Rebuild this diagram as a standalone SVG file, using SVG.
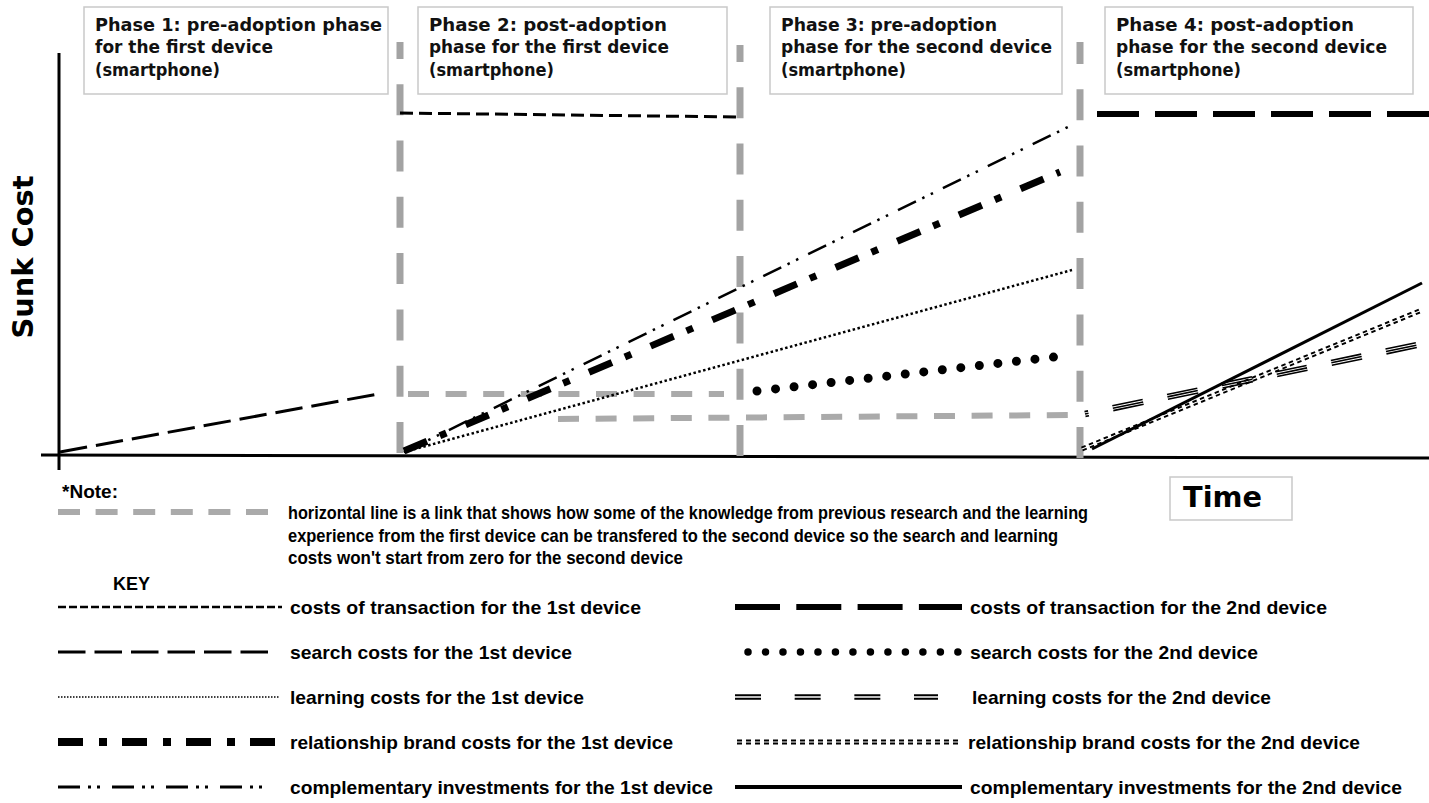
<svg xmlns="http://www.w3.org/2000/svg" width="1429" height="803" viewBox="0 0 1429 803">
<style>
 .box{fill:#fff;stroke:#c9c9c9;stroke-width:1.5}
 .ph{font-family:"DejaVu Sans","Liberation Sans",sans-serif;font-weight:bold;font-size:17px;fill:#111}
 .lbl{font-family:"Liberation Sans",Arial,sans-serif;font-weight:bold;font-size:18.5px;fill:#000}
 .big{font-family:"DejaVu Sans","Liberation Sans",sans-serif;font-weight:bold;fill:#000}
 .ax{stroke:#000;stroke-width:3;fill:none}
 .gv{stroke:#a3a3a3;stroke-width:7;fill:none;stroke-dasharray:31 25.3}
 .gh{stroke:#aaa;stroke-width:6;fill:none;stroke-dasharray:21 16.6}
 .t1{stroke:#000;stroke-width:3;fill:none;stroke-dasharray:13 6}
 .s1{stroke:#000;stroke-width:3;fill:none;stroke-dasharray:27.5 9}
 .l1{stroke:#000;stroke-width:2.5;fill:none;stroke-dasharray:2.5 2.5}
 .r1{stroke:#000;stroke-width:7;fill:none;stroke-dasharray:25 14 7 21}
 .c1{stroke:#000;stroke-width:2.5;fill:none;stroke-dasharray:20 7 2.5 7 2.5 11}
 .t2{stroke:#000;stroke-width:6;fill:none;stroke-dasharray:42 16}
 .s2{stroke:#000;stroke-width:9;stroke-linecap:round;fill:none;stroke-dasharray:0 18.65}
 .l2{stroke:#000;stroke-width:1.6;fill:none;stroke-dasharray:31 24.8;stroke-dashoffset:27.4}
 .r2{stroke:#000;stroke-width:5;fill:none;stroke-dasharray:4.5 3.5}
 .r2w{stroke:#fff;stroke-width:1.1;fill:none}
 .c2{stroke:#000;stroke-width:3;fill:none}
</style>

<g id="axes">
 <line class="ax" x1="59" y1="53" x2="59" y2="470" stroke-width="2.5"/>
 <line class="ax" x1="41" y1="455" x2="1429" y2="458"/>
 <text class="big" font-size="29" transform="rotate(-90 33 257)" x="33" y="257" text-anchor="middle" textLength="163" lengthAdjust="spacingAndGlyphs">Sunk Cost</text>
</g>

<g id="phase1">
 <rect class="box" x="84" y="7" width="304" height="87"/>
 <text class="ph" x="95" y="31" textLength="287" lengthAdjust="spacingAndGlyphs">Phase 1: pre-adoption phase</text>
 <text class="ph" x="95" y="53" textLength="178" lengthAdjust="spacingAndGlyphs">for the first device</text>
 <text class="ph" x="95" y="76" textLength="125" lengthAdjust="spacingAndGlyphs">(smartphone)</text>
</g>
<g id="phase2">
 <rect class="box" x="418" y="7" width="309" height="87"/>
 <text class="ph" x="429" y="31" textLength="238" lengthAdjust="spacingAndGlyphs">Phase 2: post-adoption</text>
 <text class="ph" x="429" y="53" textLength="240" lengthAdjust="spacingAndGlyphs">phase for the first device</text>
 <text class="ph" x="429" y="76" textLength="125" lengthAdjust="spacingAndGlyphs">(smartphone)</text>
</g>
<g id="phase3">
 <rect class="box" x="770" y="7" width="292" height="87"/>
 <text class="ph" x="781" y="31" textLength="216" lengthAdjust="spacingAndGlyphs">Phase 3: pre-adoption</text>
 <text class="ph" x="781" y="53" textLength="271" lengthAdjust="spacingAndGlyphs">phase for the second device</text>
 <text class="ph" x="781" y="76" textLength="125" lengthAdjust="spacingAndGlyphs">(smartphone)</text>
</g>
<g id="phase4">
 <rect class="box" x="1105" y="7" width="308" height="87"/>
 <text class="ph" x="1116" y="31" textLength="238" lengthAdjust="spacingAndGlyphs">Phase 4: post-adoption</text>
 <text class="ph" x="1116" y="53" textLength="271" lengthAdjust="spacingAndGlyphs">phase for the second device</text>
 <text class="ph" x="1116" y="76" textLength="125" lengthAdjust="spacingAndGlyphs">(smartphone)</text>
</g>

<g id="time">
 <rect class="box" x="1170" y="477" width="122" height="43"/>
 <text class="big" x="1183" y="507" font-size="28" textLength="79" lengthAdjust="spacingAndGlyphs">Time</text>
</g>

<g id="connectors">
 <line class="gv" x1="400" y1="453" x2="400" y2="42"/>
 <line class="gv" x1="740" y1="456" x2="740" y2="45"/>
 <line class="gv" x1="1080" y1="458" x2="1080" y2="42"/>
 <line class="gh" x1="408" y1="394" x2="724" y2="394"/>
 <line class="gh" x1="558" y1="419" x2="1068" y2="415"/>
 <line class="s1" x1="60" y1="452" x2="378" y2="394"/>
 <line class="t1" x1="400" y1="113" x2="740" y2="117"/>
 <line class="l1" x1="404" y1="452" x2="1072" y2="270"/>
 <line class="c1" x1="404" y1="452" x2="1072" y2="125"/>
 <line class="r1" x1="404" y1="451" x2="1060" y2="172"/>
 <line class="s2" x1="757" y1="391" x2="1054" y2="357"/>
 <line class="t2" x1="1097" y1="114" x2="1429" y2="114"/>
 <line class="r2" x1="1082" y1="449" x2="1422" y2="310"/>
 <line class="r2w" x1="1082" y1="449" x2="1422" y2="310"/>
 <line class="l2" x1="1084.5" y1="411.6" x2="1421.5" y2="341.6"/>
 <line class="l2" x1="1085" y1="414" x2="1422" y2="344"/>
 <line class="l2" x1="1085.5" y1="416.4" x2="1422.5" y2="346.4"/>
 <line class="c2" x1="1092" y1="449" x2="1422" y2="283"/>
</g>

<g id="note">
 <text class="lbl" x="62" y="498" font-weight="normal" textLength="56" lengthAdjust="spacingAndGlyphs">*Note:</text>
 <line class="gh" x1="58" y1="512" x2="268" y2="512" style="stroke-dasharray:22 15.6"/>
 <text class="lbl" x="288" y="519" font-size="17" textLength="800" lengthAdjust="spacingAndGlyphs">horizontal line is a link that shows how some of the knowledge from previous research and the learning</text>
 <text class="lbl" x="288" y="542" font-size="17" textLength="770" lengthAdjust="spacingAndGlyphs">experience from the first device can be transfered to the second device so the search and learning</text>
 <text class="lbl" x="288" y="564" font-size="17" textLength="395" lengthAdjust="spacingAndGlyphs">costs won't start from zero for the second device</text>
</g>

<g id="key">
 <text class="lbl" x="113" y="590" font-size="19" font-weight="normal" textLength="37" lengthAdjust="spacingAndGlyphs">KEY</text>
 <g id="key-t1"><line x1="58" y1="607" x2="282" y2="607" style="stroke:#000;stroke-width:2.5;stroke-dasharray:8 3"/>
  <text class="lbl" x="290" y="614" textLength="351" lengthAdjust="spacingAndGlyphs">costs of transaction for the 1st device</text></g>
 <g id="key-s1"><line class="s1" x1="58" y1="652" x2="268" y2="652"/>
  <text class="lbl" x="290" y="659" textLength="282" lengthAdjust="spacingAndGlyphs">search costs for the 1st device</text></g>
 <g id="key-l1"><line x1="58" y1="697" x2="280" y2="697" style="stroke:#000;stroke-width:1.5;stroke-dasharray:1.5 1.5"/>
  <text class="lbl" x="290" y="704" textLength="294" lengthAdjust="spacingAndGlyphs">learning costs for the 1st device</text></g>
 <g id="key-r1"><line x1="58" y1="742" x2="277" y2="742" style="stroke:#000;stroke-width:8;stroke-dasharray:25 16 8 15"/>
  <text class="lbl" x="290" y="749" textLength="383" lengthAdjust="spacingAndGlyphs">relationship brand costs for the 1st device</text></g>
 <g id="key-c1"><line x1="58" y1="787" x2="272" y2="787" style="stroke:#000;stroke-width:3;stroke-dasharray:22 8 3 6 3 12"/>
  <text class="lbl" x="290" y="794" textLength="423" lengthAdjust="spacingAndGlyphs">complementary investments for the 1st device</text></g>

 <g id="key-t2"><line x1="735" y1="607" x2="962" y2="607" style="stroke:#000;stroke-width:6;stroke-dasharray:45 16.3"/>
  <text class="lbl" x="970" y="614" textLength="357" lengthAdjust="spacingAndGlyphs">costs of transaction for the 2nd device</text></g>
 <g id="key-s2"><line x1="748" y1="652" x2="958" y2="652" style="stroke:#000;stroke-width:7.5;stroke-linecap:round;stroke-dasharray:0 17.49"/>
  <text class="lbl" x="970" y="659" textLength="288" lengthAdjust="spacingAndGlyphs">search costs for the 2nd device</text></g>
 <g id="key-l2"><line x1="735" y1="695.2" x2="938" y2="695.2" style="stroke:#000;stroke-width:2;stroke-dasharray:26 33.67"/>
  <line x1="735" y1="698.8" x2="938" y2="698.8" style="stroke:#000;stroke-width:2;stroke-dasharray:26 33.67"/>
  <text class="lbl" x="972" y="704" textLength="299" lengthAdjust="spacingAndGlyphs">learning costs for the 2nd device</text></g>
 <g id="key-r2"><line class="r2" x1="737" y1="742" x2="962" y2="742" style="stroke-dasharray:5 4"/>
  <line class="r2w" x1="737" y1="742" x2="962" y2="742"/>
  <text class="lbl" x="968" y="749" textLength="392" lengthAdjust="spacingAndGlyphs">relationship brand costs for the 2nd device</text></g>
 <g id="key-c2"><line x1="735" y1="787" x2="962" y2="787" style="stroke:#000;stroke-width:4"/>
  <text class="lbl" x="970" y="794" textLength="432" lengthAdjust="spacingAndGlyphs">complementary investments for the 2nd device</text></g>
</g>
</svg>
